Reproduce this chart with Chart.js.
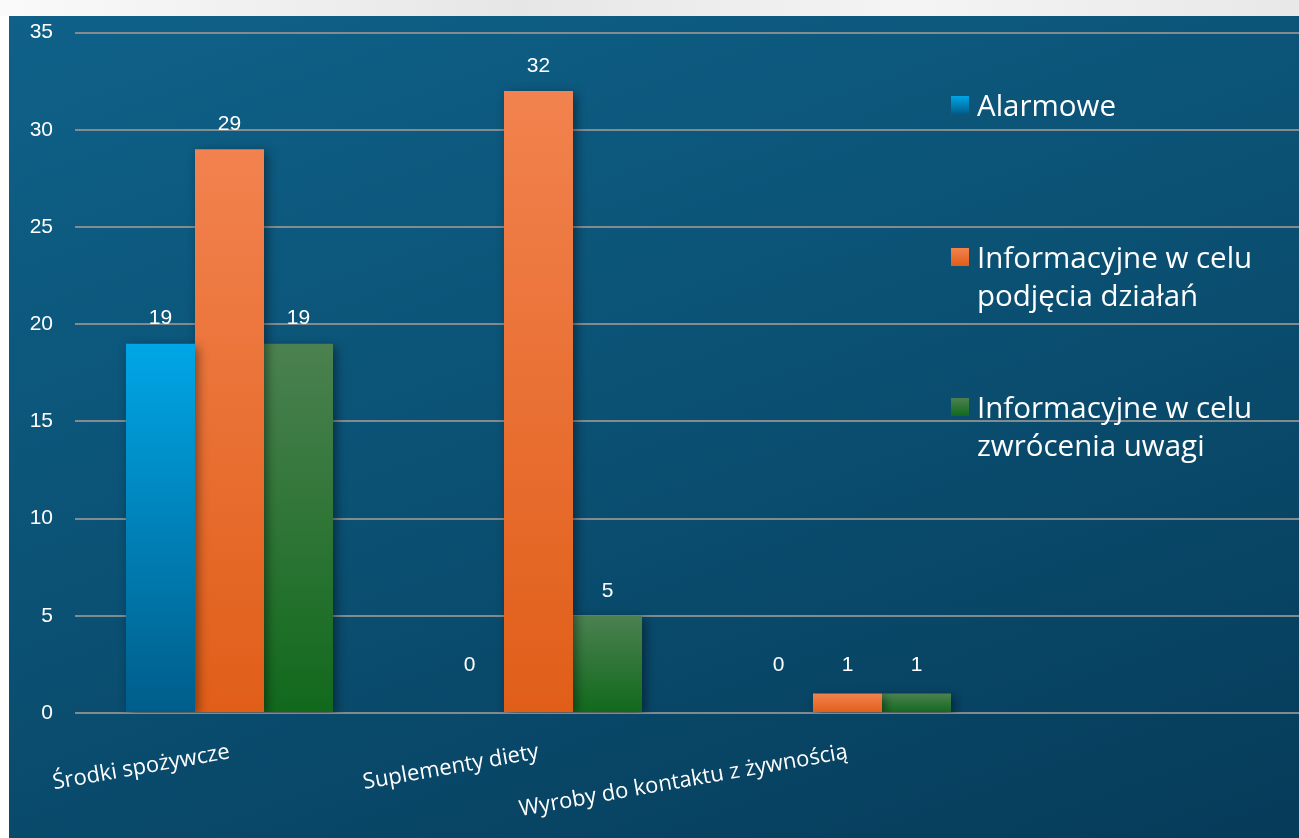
<!DOCTYPE html>
<html>
<head>
<meta charset="utf-8">
<script src="https://cdn.jsdelivr.net/npm/chart.js@4.4.1/dist/chart.umd.min.js"></script>
<style>
  html, body { margin: 0; padding: 0; width: 1299px; height: 838px; overflow: hidden; background: #fff; }
  #topband { position: absolute; left: 0; top: 0; width: 1299px; height: 16px;
    background: linear-gradient(90deg, #fafafa 0%, #e6e6e6 40%, #f4f4f4 70%, #e8e8e8 100%); }
  #panel { position: absolute; left: 9px; top: 16px; width: 1290px; height: 822px; overflow: hidden;
    background: linear-gradient(160deg, #0f6189 0%, #0b5275 45%, #063b59 100%); }
  #wrap { position: absolute; left: 0; top: -18px; width: 1302px; height: 840px; }
  #legend { position: absolute; left: 942px; top: 0; font-family: "Open Sans", sans-serif; font-size: 29.5px; color: #fff; }
  .item { position: absolute; left: 0; width: 360px; line-height: 38px; padding-left: 26px; white-space: nowrap; }
  .box { position: absolute; left: 0; top: 10px; width: 18px; height: 18px; }
</style>
</head>
<body>
<div id="topband"></div>
<div id="panel">
  <div id="wrap"><canvas id="chart"></canvas></div>
  <div id="legend"></div>
</div>
<script>
const categories = ['Środki spożywcze', 'Suplementy diety', 'Wyroby do kontaktu z żywnością', '']
const seriesNames = ['Alarmowe', 'Informacyjne w celu podjęcia działań', 'Informacyjne w celu zwrócenia uwagi']
const legendLines = [['Alarmowe'], ['Informacyjne w celu', 'podjęcia działań'], ['Informacyjne w celu', 'zwrócenia uwagi']]
const alarmowe = [19, 0, 0, null]
const podjecia = [29, 32, 1, null]
const zwrocenia = [19, 5, 1, null]
const yTicks = [0, 5, 10, 15, 20, 25, 30, 35]

const topColors = ['#00a6e6', '#f2824f', '#4b8150']
const bottomColors = ['#005d8a', '#e05e18', '#11691c']

function barGradient(i) {
    return (ctx) => {
        const chart = ctx.chart
        const area = chart.chartArea
        if (!area || ctx.raw == null) return topColors[i]
        const yScale = chart.scales.y
        const top = yScale.getPixelForValue(ctx.raw)
        const bottom = yScale.getPixelForValue(0)
        if (bottom - top < 1) return bottomColors[i]
        const g = chart.ctx.createLinearGradient(0, top, 0, bottom)
        g.addColorStop(0, topColors[i])
        g.addColorStop(1, bottomColors[i])
        return g
    }
}

const series = [alarmowe, podjecia, zwrocenia]
const datasets = series.map((values, i) => ({
    label: seriesNames[i],
    data: values,
    backgroundColor: barGradient(i),
    borderWidth: 0,
    categoryPercentage: 0.67,
    barPercentage: 1.0
}))

const shadowPlugin = {
    id: 'shadow',
    beforeDatasetsDraw(chart) {
        const c = chart.ctx
        c.save()
        c.shadowColor = 'rgba(0,0,0,0.45)'
        c.shadowBlur = 10
        c.shadowOffsetX = 3
        c.shadowOffsetY = 3
    },
    afterDatasetsDraw(chart) {
        chart.ctx.restore()
    }
}

const valueLabels = {
    id: 'valueLabels',
    afterDatasetsDraw(chart) {
        const c = chart.ctx
        const base = chart.scales.y.getPixelForValue(0)
        c.save()
        c.fillStyle = '#ffffff'
        c.font = '21px "Liberation Sans", Arial, sans-serif'
        c.textAlign = 'center'
        c.textBaseline = 'middle'
        chart.data.datasets.forEach((ds, di) => {
            chart.getDatasetMeta(di).data.forEach((bar, idx) => {
                const v = ds.data[idx]
                if (v == null) return
                const y = Math.min(bar.y - 25, base - 48)
                c.fillText(String(v), bar.x, y)
            })
        })
        c.restore()
    }
}

const canvas = document.getElementById('chart')
canvas.width = 1302
canvas.height = 840

new Chart(canvas.getContext('2d'), {
    type: 'bar',
    data: { labels: categories, datasets: datasets },
    options: {
        responsive: false,
        animation: false,
        layout: { padding: 0 },
        plugins: {
            legend: { display: false },
            tooltip: { enabled: false }
        },
        scales: {
            x: {
                grid: { display: false, drawTicks: false },
                border: { display: false },
                ticks: {
                    color: '#ffffff',
                    font: { family: '"Open Sans", sans-serif', size: 22 },
                    minRotation: 10,
                    maxRotation: 10,
                    padding: 26,
                    autoSkip: false
                },
                afterFit(scale) { scale.height = 125 }
            },
            y: {
                min: 0,
                max: 35,
                afterBuildTicks(scale) { scale.ticks = yTicks.map(v => ({ value: v })) },
                grid: { color: 'rgba(145,145,145,0.9)', lineWidth: 2, drawTicks: false },
                border: { display: false },
                ticks: {
                    color: '#ffffff',
                    font: { family: '"Liberation Sans", Arial, sans-serif', size: 21 },
                    padding: 22
                },
                afterFit(scale) { scale.width = 66 }
            }
        }
    },
    plugins: [shadowPlugin, valueLabels]
})

// legend built from the series names
const legend = document.getElementById('legend')
const itemTops = [70, 222, 372]
legendLines.forEach((lines, i) => {
    const item = document.createElement('div')
    item.className = 'item'
    item.style.top = itemTops[i] + 'px'
    const box = document.createElement('span')
    box.className = 'box'
    box.style.background = `linear-gradient(${topColors[i]}, ${bottomColors[i]})`
    item.appendChild(box)
    item.title = seriesNames[i]
    lines.forEach((t, k) => {
        if (k > 0) item.appendChild(document.createElement('br'))
        item.appendChild(document.createTextNode(t))
    })
    legend.appendChild(item)
})
</script>
</body>
</html>
